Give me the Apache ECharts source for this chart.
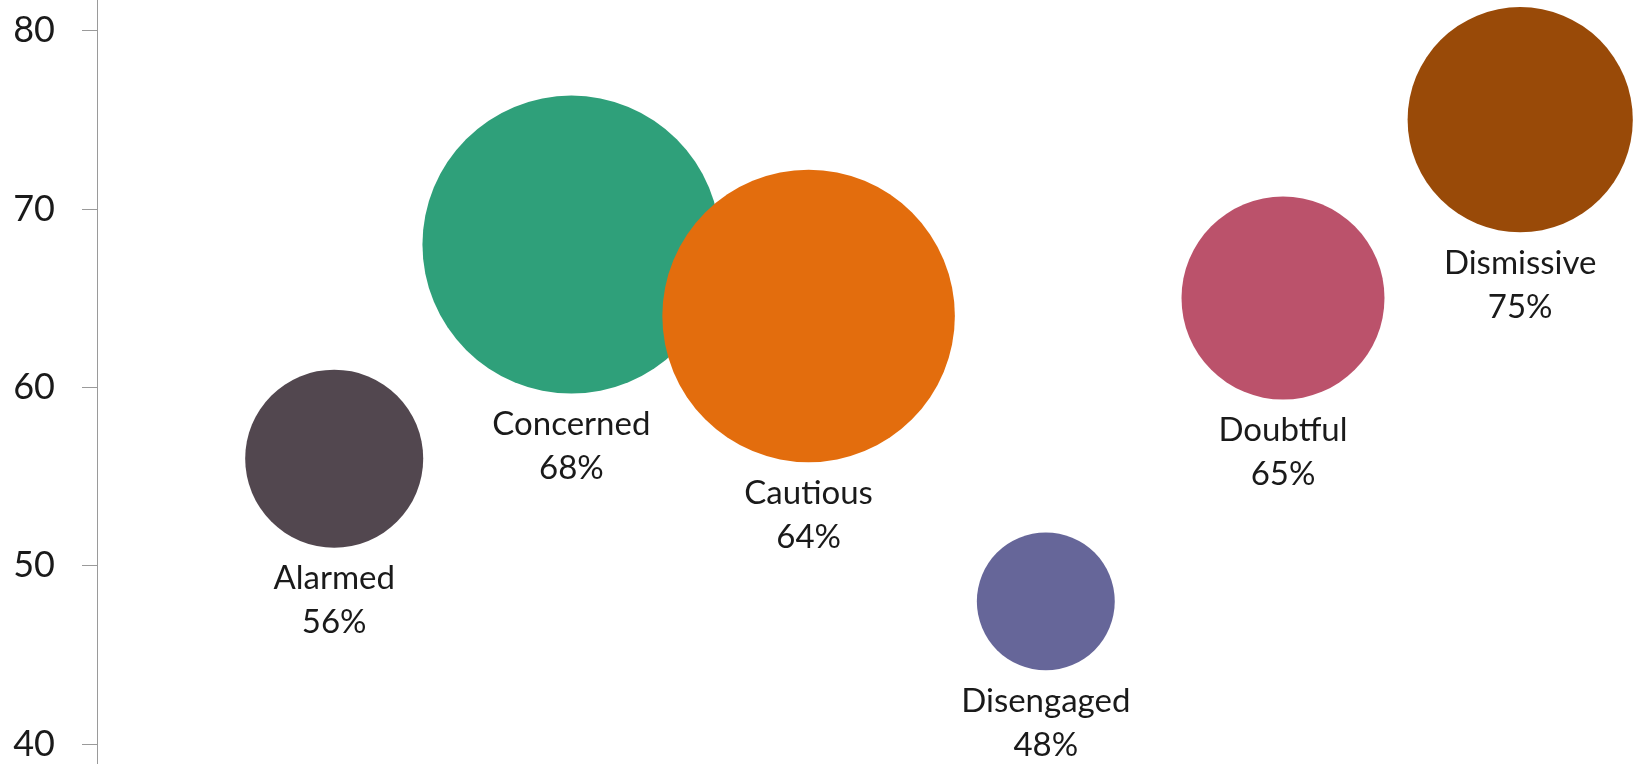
<!DOCTYPE html>
<html>
<head>
<meta charset="utf-8">
<script src="https://cdn.jsdelivr.net/npm/echarts@6/dist/echarts.min.js"></script>
<style>
html,body{margin:0;padding:0;background:#fff;}
#chart{width:1643px;height:764px;}
</style>
</head>
<body>
<div id="chart"></div>
<script>
// Data
var categories = ["Alarmed", "Concerned", "Cautious", "Disengaged", "Doubtful", "Dismissive"];
var xPositions = [1, 2, 3, 4, 5, 6];
var percentValues = [56, 68, 64, 48, 65, 75];
var segmentSizes = [10, 28, 27, 6, 13, 16];
var colors = ["#52474F", "#2FA07A", "#E36D0D", "#666699", "#BB526B", "#994A08"];
var yTicks = [40, 50, 60, 70, 80];

var data = categories.map(function (c, i) {
  return {
    name: c,
    value: [xPositions[i], percentValues[i], segmentSizes[i]],
    itemStyle: { color: colors[i], opacity: 1 }
  };
});

var chart = echarts.init(document.getElementById('chart'), null, { renderer: 'canvas' });
chart.setOption({
  animation: false,
  backgroundColor: '#ffffff',
  grid: { left: 97, top: -147.9, width: 1660.4, height: 1070.4, outerBoundsMode: 'none', containLabel: false },
  xAxis: {
    type: 'value', min: 0, max: 7, show: false
  },
  yAxis: {
    type: 'value', min: 30, max: 90, interval: 10,
    axisLine: { show: true, lineStyle: { color: '#9A9A9A', width: 1 } },
    axisTick: { show: true, length: 15, lineStyle: { color: '#9A9A9A', width: 1 } },
    splitLine: { show: false },
    axisLabel: {
      margin: 42,
      fontFamily: 'Lato',
      fontSize: 36,
      color: '#1A1A1A',
      formatter: function (v) { return yTicks.indexOf(v) >= 0 ? String(v) : ''; }
    }
  },
  series: [{
    type: 'scatter',
    clip: false,
    data: data,
    symbol: 'circle',
    symbolSize: function (val) { return 56.3 * Math.sqrt(val[2]); },
    label: {
      show: true,
      position: 'bottom',
      distance: 9,
      fontFamily: 'Lato',
      fontSize: 33,
      lineHeight: 44,
      color: '#1A1A1A',
      align: 'center',
      formatter: function (p) { return p.name + '\n' + p.value[1] + '%'; }
    }
  }]
});
</script>
</body>
</html>
